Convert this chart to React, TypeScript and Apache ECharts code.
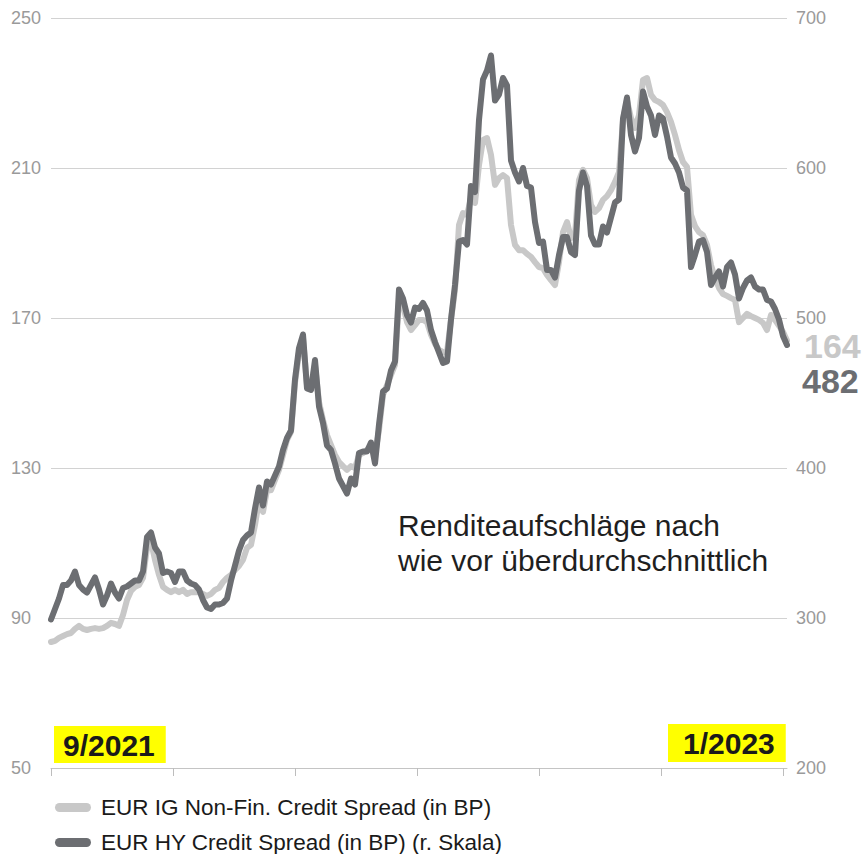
import React, { useEffect, useRef } from "react";
import * as echarts from "echarts";

// EUR IG Non-Fin. Credit Spread (in BP), left scale, 9/2021 .. 1/2023
const igSpread: number[] = [
  83.6, 83.9, 84.7, 85.2, 85.7, 86.0, 87.1, 87.9, 87.1, 86.8,
  87.1, 87.3, 87.1, 87.3, 87.9, 88.7, 88.4, 87.9, 90.8, 94.8,
  97.2, 98.3, 98.8, 100.7, 108.7, 110.3, 105.5, 101.5, 98.3, 97.5,
  96.9, 97.5, 96.9, 97.5, 96.4, 96.9, 96.9, 96.9, 96.4, 95.9,
  96.4, 97.5, 98.0, 99.6, 100.7, 101.5, 102.8, 103.9, 105.5, 108.7,
  109.5, 114.8, 121.5, 118.3, 124.1, 124.1, 126.8, 129.5, 133.5, 137.5,
  139.6, 152.7, 160.9, 164.7, 152.1, 151.3, 157.5, 147.6, 142.8, 138.8,
  136.1, 133.5, 131.6, 130.5, 129.5, 130.5, 130.0, 133.5, 134.0, 134.8,
  136.1, 133.5, 140.1, 149.5, 152.1, 154.8, 157.5, 174.8, 173.5, 168.9,
  166.8, 168.1, 169.5, 169.5, 168.9, 165.5, 163.1, 161.5, 160.9, 160.9,
  169.5, 177.5, 194.8, 198.0, 197.5, 202.0, 200.7, 210.8, 217.5, 218.0,
  213.5, 205.5, 207.3, 208.1, 207.3, 194.8, 189.5, 188.1, 188.1, 187.1,
  186.3, 184.9, 183.6, 183.3, 181.5, 180.1, 178.8, 184.9, 192.9, 195.6,
  191.3, 192.1, 206.8, 209.5, 207.3, 200.1, 198.3, 199.3, 201.5, 202.5,
  204.1, 206.3, 208.9, 222.8, 228.1, 223.3, 220.7, 224.1, 233.5, 234.0,
  229.5, 228.1, 227.6, 226.8, 224.9, 222.3, 218.8, 214.8, 211.6, 210.3,
  197.5, 194.5, 192.9, 192.1, 189.5, 184.1, 180.7, 178.0, 176.4, 175.9,
  175.3, 174.8, 168.9, 170.0, 171.1, 170.5, 170.0, 169.5, 168.7, 166.8,
  170.8, 169.5, 167.9, 166.3, 164,
];

// EUR HY Credit Spread (in BP), right scale
const hySpread: number[] = [
  299, 306, 313, 322, 322, 325, 331, 322, 319, 317,
  322, 327, 319, 309, 315, 323, 317, 313, 320, 321,
  323, 325, 325, 331, 354, 357, 347, 343, 330, 331,
  330, 324, 331, 331, 325, 323, 322, 319, 312, 307,
  306, 309, 309, 310, 313, 325, 335, 345, 352, 355,
  357, 373, 387, 375, 391, 389, 395, 401, 412, 420,
  425, 459, 480, 489, 453, 452, 472, 441, 430, 415,
  412, 403, 393, 388, 383, 393, 389, 410, 411, 411,
  417, 403, 429, 451, 453, 465, 471, 519, 513, 502,
  497, 507, 506, 510, 505, 492, 484, 477, 470, 471,
  499, 522, 551, 552, 549, 588, 584, 632, 659, 665,
  675, 645, 649, 660, 655, 605, 597, 591, 600, 588,
  587, 564, 550, 551, 532, 532, 527, 542, 554, 554,
  544, 542, 585, 597, 588, 555, 549, 549, 561, 557,
  567, 577, 579, 633, 647, 622, 611, 620, 651, 641,
  635, 622, 635, 633, 621, 607, 603, 597, 587, 585,
  534, 542, 551, 552, 544, 522, 527, 531, 521, 534,
  537, 529, 513, 520, 525, 527, 521, 519, 519, 512,
  511, 506, 499, 488, 482,
];

const seriesNames = [
  "EUR IG Non-Fin. Credit Spread (in BP)",
  "EUR HY Credit Spread (in BP) (r. Skala)",
];
const xTickPositions = [0, 30.5, 61, 91.5, 122, 152.5, 183];
const startLabel = "9/2021";
const endLabelText = "1/2023";
const annotation = "Renditeaufschläge nach\nwie vor überdurchschnittlich";

const FONT = '"Liberation Sans", Helvetica, Arial, sans-serif';
const LIGHT = "#c8c8c8";
const DARK = "#6c6e72";

export default function App() {
  const ref = useRef<HTMLDivElement>(null);
  useEffect(() => {
    if (!ref.current) return;
    const chart = echarts.init(ref.current, undefined, { renderer: "svg" });
    const lastIndex = hySpread.length - 1;
    const legendBase = {
      orient: "horizontal",
      left: 55,
      padding: 0,
      itemWidth: 40,
      itemHeight: 9,
      icon: "path://M5,0H35A5,5,0,0,1,35,10H5A5,5,0,0,1,5,0Z",
      textStyle: {
        color: "#1a1a1a",
        fontSize: 22.5,
        fontFamily: FONT,
        padding: [0, 0, 0, 3],
      },
    };
    const option: any = {
      animation: false,
      textStyle: { fontFamily: FONT },
      grid: { left: 51, right: 81, top: 18, bottom: 86, containLabel: false },
      xAxis: {
        type: "value",
        min: 0,
        max: lastIndex,
        axisLine: { show: true, lineStyle: { color: "#c4c4c4", width: 1 } },
        axisTick: {
          show: true,
          length: 8,
          customValues: xTickPositions,
          lineStyle: { color: "#bdbdbd" },
        },
        axisLabel: { show: false },
        splitLine: { show: false },
      },
      yAxis: [
        {
          type: "value",
          min: 50,
          max: 250,
          interval: 40,
          axisLine: { show: false },
          axisTick: { show: false },
          axisLabel: {
            align: "left",
            margin: 40,
            color: "#9a9a9a",
            fontSize: 18,
            fontFamily: FONT,
          },
          splitLine: { show: true, lineStyle: { color: "#d2d2d2", width: 1 } },
        },
        {
          type: "value",
          min: 200,
          max: 700,
          interval: 100,
          position: "right",
          axisLine: { show: false },
          axisTick: { show: false },
          axisLabel: {
            align: "left",
            margin: 9,
            color: "#9a9a9a",
            fontSize: 18,
            fontFamily: FONT,
            padding: [0, 0, 9, 0],
          },
          splitLine: { show: false },
        },
      ],
      legend: [
        { ...legendBase, top: 796, data: [seriesNames[0]] },
        { ...legendBase, top: 831, data: [seriesNames[1]] },
      ],
      series: [
        {
          name: seriesNames[0],
          type: "line",
          yAxisIndex: 0,
          color: LIGHT,
          showSymbol: false,
          symbol: "none",
          data: igSpread.map((v, i) => [i, v]),
          lineStyle: { color: LIGHT, width: 6, cap: "round", join: "round" },
          endLabel: {
            show: true,
            formatter: (p: any) => String(Math.round(p.value[1])),
            color: LIGHT,
            fontSize: 34,
            fontWeight: "bold",
            fontFamily: FONT,
            distance: 17,
            offset: [0, 5],
          },
          z: 2,
        },
        {
          name: seriesNames[1],
          type: "line",
          yAxisIndex: 1,
          color: DARK,
          showSymbol: false,
          symbol: "none",
          data: hySpread.map((v, i) => [i, v]),
          lineStyle: { color: DARK, width: 6, cap: "round", join: "round" },
          endLabel: {
            show: true,
            formatter: (p: any) => String(Math.round(p.value[1])),
            color: DARK,
            fontSize: 34,
            fontWeight: "bold",
            fontFamily: FONT,
            distance: 15,
            offset: [0, 36],
          },
          z: 3,
        },
      ],
      graphic: [
        {
          type: "text",
          left: 398,
          top: 508,
          style: {
            text: annotation,
            font: `30px ${FONT}`,
            lineHeight: 35,
            fill: "#1f1f1f",
          },
          z: 10,
        },
        {
          type: "text",
          left: 54,
          top: 726,
          style: {
            text: startLabel,
            font: `bold 30px ${FONT}`,
            lineHeight: 30,
            fill: "#1a1a1a",
            backgroundColor: "#ffff00",
            padding: [4, 11, 3, 9],
          },
          z: 10,
        },
        {
          type: "text",
          left: 668,
          top: 724,
          style: {
            text: endLabelText,
            font: `bold 30px ${FONT}`,
            lineHeight: 30,
            fill: "#1a1a1a",
            backgroundColor: "#ffff00",
            padding: [4, 11, 4, 15],
          },
          z: 10,
        },
      ],
    };
    chart.setOption(option);
    return () => chart.dispose();
  }, []);
  return (
    <div
      ref={ref}
      style={{ position: "absolute", left: 0, top: 0, width: 868, height: 854 }}
    />
  );
}
